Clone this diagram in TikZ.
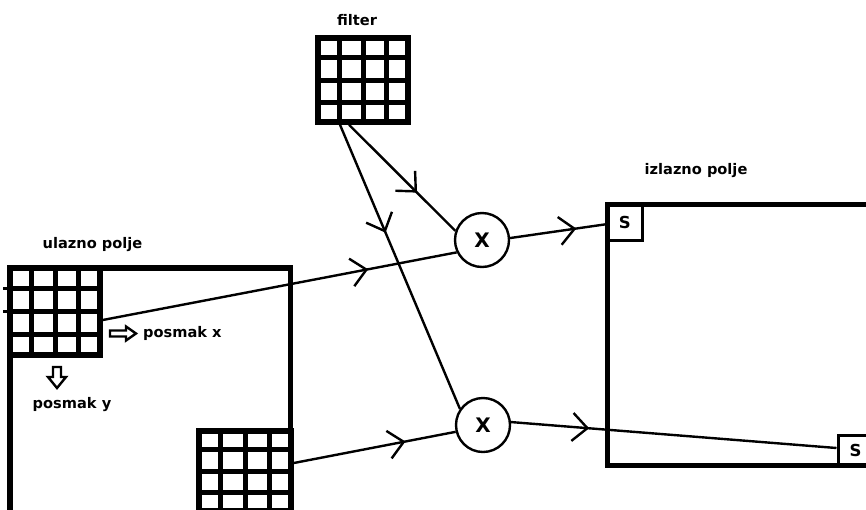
\documentclass[tikz,border=0pt]{standalone}
\usepackage{fontspec}
\setmainfont{DejaVu Sans}
\usetikzlibrary{arrows.meta,decorations.markings,calc}

\tikzset{
  lbl/.style={font=\bfseries\fontsize{14.6}{16}\selectfont, inner sep=0pt},
  gridbox/.style={draw, line width=5.5pt, inner sep=0pt},
  gridline/.style={line width=5pt},
  field/.style={line width=5.5pt},
  mul/.style={draw, circle, line width=2.4pt, minimum size=54pt, inner sep=0pt,
              font=\bfseries\fontsize{20}{22}\selectfont},
  sbox/.style={draw, line width=3pt, inner sep=0pt,
               font=\bfseries\fontsize{16.5}{18}\selectfont},
  conn/.style={line width=2.4pt},
  hollow/.style={line width=2.4pt, line join=miter},
  midarrow/.style={postaction={decorate}, decoration={markings,
      mark=at position #1 with {\arrow{Straight Barb[length=15pt,width=28pt]}}}},
}

\begin{document}
\begin{tikzpicture}[x=1pt,y=-1pt]
\useasboundingbox (0,0) rectangle (866,509);
\clip (0,0) rectangle (866,509);

% fields
\draw[field] (10,268) -- (10,560) (10,268) -- (290.5,268) -- (290.5,560);
\draw[field] (900,204.5) -- (607.5,204.5) -- (607.5,465.5) -- (900,465.5);

% grids
\node[gridbox, minimum width=90pt, minimum height=87pt] (ingrid) at (55,311.5) {};
\node[gridbox, minimum width=90pt, minimum height=84pt] (filter) at (363,80) {};
\node[gridbox, minimum width=92pt, minimum height=80pt] (lowgrid) at (245,471) {};
\foreach \g in {ingrid,filter,lowgrid}{
  \foreach \i in {1,2,3}{
    \draw[gridline] ($(\g.north west)!\i/4!(\g.north east)$) -- ($(\g.south west)!\i/4!(\g.south east)$);
    \draw[gridline] ($(\g.north west)!\i/4!(\g.south west)$) -- ($(\g.north east)!\i/4!(\g.south east)$);
  }
}
\draw[line width=3pt] ($(ingrid.north west)!1/4!(ingrid.south west)$) -- ++(-4,0);
\draw[line width=3pt] ($(ingrid.north west)!2/4!(ingrid.south west)$) -- ++(-4,0);

% multipliers and outputs
\node[mul] (X1) at (482,240) {X};
\node[mul] (X2) at (483,425) {X};
\node[sbox, minimum width=34.5pt, minimum height=35.5pt] (S1) at (624.75,222.25) {S};
\node[sbox, minimum width=35pt, minimum height=30pt] (S2) at (855.5,450) {S};

% connector ends
\coordinate (inout) at ([yshift=-8.5pt]ingrid.east);
\coordinate (lowout) at ([yshift=8pt]lowgrid.east);
\coordinate (f1) at ([xshift=-14pt]filter.south);
\coordinate (f2) at ([xshift=-23pt]filter.south);

% connectors
\draw[conn, midarrow=0.75] (inout) -- (X1.206);
\draw[conn, midarrow=0.64] (f1) -- (X1.161);
\draw[conn, midarrow=0.38] (f2) -- (X2.145);
\draw[conn, midarrow=0.69] (lowout) -- (X2.194);
\draw[conn, midarrow=0.69] (X1.4) -- ([yshift=-2pt]S1.west);
\draw[conn, midarrow=0.24] (X2.6) -- ([yshift=2pt]S2.west);

% hollow shift arrows
\draw[hollow] (110,330.5) -- (126,330.5) -- (126,326.5) -- (136,333.5) -- (126,340.5) -- (126,336.5) -- (110,336.5) -- cycle;
\draw[hollow] (53,367) -- (61,367) -- (61,377) -- (66,377) -- (57,388) -- (48,377) -- (53,377) -- cycle;

% labels
\node[lbl, anchor=base] (lfilter) at (357,25) {filter};
\node[lbl, anchor=base] (lin) at (92.5,248) {ulazno polje};
\node[lbl, anchor=base] (lout) at (696,174) {izlazno polje};
\node[lbl, anchor=base west] (lx) at (143,337) {posmak x};
\node[lbl, anchor=base] (ly) at (72,408) {posmak y};
\end{tikzpicture}
\end{document}
